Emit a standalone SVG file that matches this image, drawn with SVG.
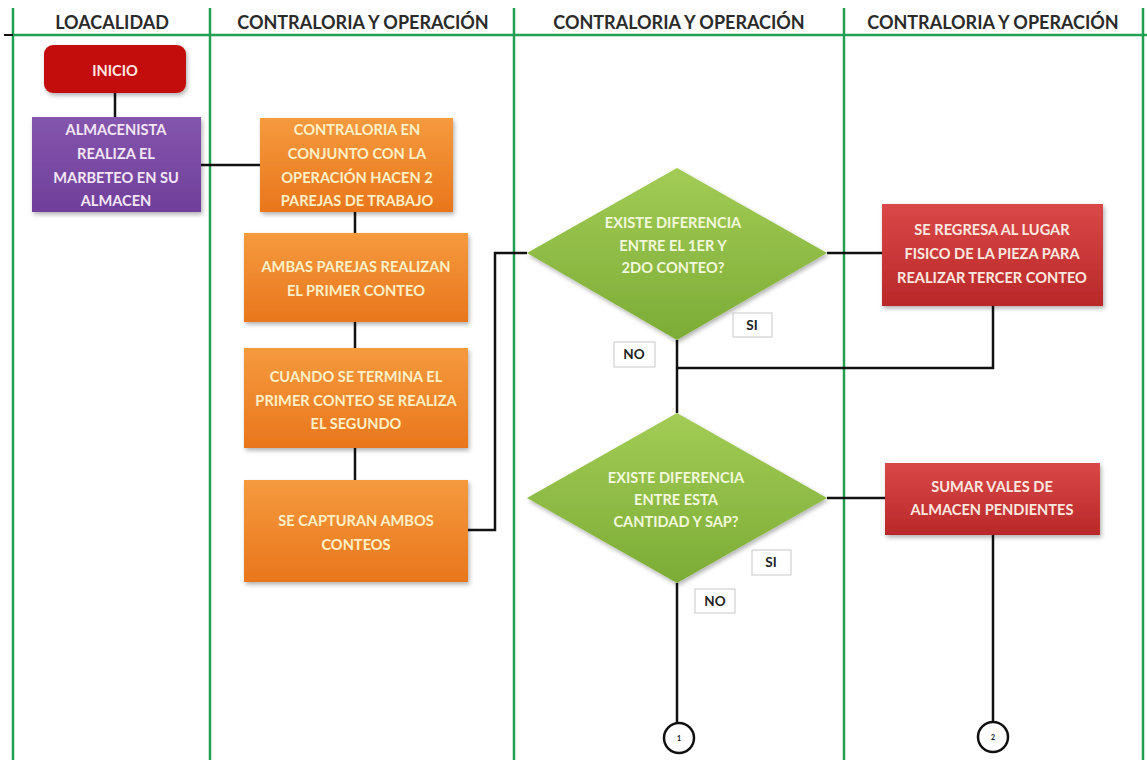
<svg xmlns="http://www.w3.org/2000/svg" width="1147" height="760" viewBox="0 0 1147 760">
  <defs>
    <linearGradient id="gOrange" x1="0" y1="0" x2="0" y2="1">
      <stop offset="0" stop-color="#f59a3e"/>
      <stop offset="1" stop-color="#e9761c"/>
    </linearGradient>
    <linearGradient id="gRed" x1="0" y1="0" x2="0" y2="1">
      <stop offset="0" stop-color="#da4848"/>
      <stop offset="1" stop-color="#b92828"/>
    </linearGradient>
    <linearGradient id="gPurple" x1="0" y1="0" x2="0" y2="1">
      <stop offset="0" stop-color="#8555ad"/>
      <stop offset="1" stop-color="#6f3f9a"/>
    </linearGradient>
    <linearGradient id="gGreen" x1="0" y1="0" x2="0" y2="1">
      <stop offset="0" stop-color="#a2cc55"/>
      <stop offset="1" stop-color="#7cac36"/>
    </linearGradient>
    <filter id="shadow" x="-10%" y="-10%" width="125%" height="130%">
      <feDropShadow dx="1.5" dy="2.5" stdDeviation="2" flood-color="#000" flood-opacity="0.3"/>
    </filter>
  </defs>
  <style>
    .lane { stroke: #22a052; stroke-width: 2.5; fill: none; }
    .head { font-family: Lato, "Open Sans", "Liberation Sans", sans-serif; font-weight: bold; font-size: 18px; fill: #2b2b2b; text-anchor: middle; }
    .txt { font-family: Lato, "Open Sans", "Liberation Sans", sans-serif; font-weight: bold; font-size: 14.6px; text-anchor: middle; }
    .tOrange { fill: #fff0c8; }
    .tRed { fill: #fde8e0; }
    .tPurple { fill: #f3e6f6; }
    .tGreen { fill: #f2f8dc; }
    .conn { stroke: #111; stroke-width: 2.5; fill: none; }
    .lbl { fill: #fff; stroke: #c8c8c8; stroke-width: 1; }
    .lblT { font-family: Lato, "Open Sans", "Liberation Sans", sans-serif; font-weight: bold; font-size: 13.5px; fill: #222; text-anchor: middle; }
    .circ { fill: #fff; stroke: #111; stroke-width: 2.5; }
    .num { font-family: Lato, "Liberation Sans", sans-serif; font-size: 7px; font-weight: bold; fill: #111; text-anchor: middle; }
  </style>

  <rect width="1147" height="760" fill="#ffffff"/>

  <!-- swimlanes -->
  <g id="lanes">
    <line class="lane" x1="13" y1="8" x2="13" y2="760"/>
    <line class="lane" x1="210" y1="8" x2="210" y2="760"/>
    <line class="lane" x1="514" y1="8" x2="514" y2="760"/>
    <line class="lane" x1="844" y1="8" x2="844" y2="760"/>
    <line class="lane" x1="1143" y1="8" x2="1143" y2="760"/>
    <line class="lane" x1="13" y1="35" x2="1147" y2="35"/>
    <line x1="4" y1="35" x2="13" y2="35" stroke="#111" stroke-width="2"/>
    <text class="head" x="112" y="29">LOACALIDAD</text>
    <text class="head" x="363" y="29">CONTRALORIA Y OPERACIÓN</text>
    <text class="head" x="679" y="29">CONTRALORIA Y OPERACIÓN</text>
    <text class="head" x="993" y="29">CONTRALORIA Y OPERACIÓN</text>
  </g>

  <!-- connectors -->
  <g id="connectors">
    <line class="conn" x1="115" y1="93" x2="115" y2="117"/>
    <line class="conn" x1="201" y1="165" x2="260" y2="165"/>
    <line class="conn" x1="355" y1="212" x2="355" y2="233"/>
    <line class="conn" x1="355" y1="322" x2="355" y2="348"/>
    <line class="conn" x1="355" y1="448" x2="355" y2="480"/>
    <polyline class="conn" points="468,530 495,530 495,253 527,253"/>
    <line class="conn" x1="827" y1="253" x2="882" y2="253"/>
    <polyline class="conn" points="993,306 993,368 677,368"/>
    <line class="conn" x1="677" y1="340" x2="677" y2="413"/>
    <line class="conn" x1="827" y1="498" x2="885" y2="498"/>
    <line class="conn" x1="677" y1="583" x2="677" y2="722"/>
    <line class="conn" x1="993" y1="535" x2="993" y2="721"/>
  </g>

  <g id="inicio">
    <rect x="44" y="45" width="142" height="48" rx="9" fill="#c30d0d" filter="url(#shadow)"/>
    <text class="txt tRed" x="115" y="76">INICIO</text>
  </g>

  <g id="almacenista">
    <rect x="32" y="117" width="169" height="95" fill="url(#gPurple)" filter="url(#shadow)"/>
    <text class="txt tPurple" x="116" y="135">ALMACENISTA</text>
    <text class="txt tPurple" x="116" y="159">REALIZA EL</text>
    <text class="txt tPurple" x="116" y="183">MARBETEO EN SU</text>
    <text class="txt tPurple" x="116" y="206">ALMACEN</text>
  </g>

  <g id="contraloria">
    <rect x="260" y="118" width="193" height="94" fill="url(#gOrange)" filter="url(#shadow)"/>
    <text class="txt tOrange" x="357" y="135">CONTRALORIA EN</text>
    <text class="txt tOrange" x="357" y="159">CONJUNTO CON LA</text>
    <text class="txt tOrange" x="357" y="183">OPERACIÓN HACEN 2</text>
    <text class="txt tOrange" x="357" y="206">PAREJAS DE TRABAJO</text>
  </g>

  <g id="primer-conteo">
    <rect x="244" y="233" width="224" height="89" fill="url(#gOrange)" filter="url(#shadow)"/>
    <text class="txt tOrange" x="356" y="272">AMBAS PAREJAS REALIZAN</text>
    <text class="txt tOrange" x="356" y="296">EL PRIMER CONTEO</text>
  </g>

  <g id="segundo-conteo">
    <rect x="244" y="348" width="224" height="100" fill="url(#gOrange)" filter="url(#shadow)"/>
    <text class="txt tOrange" x="356" y="382">CUANDO SE TERMINA EL</text>
    <text class="txt tOrange" x="356" y="406">PRIMER CONTEO SE REALIZA</text>
    <text class="txt tOrange" x="356" y="429">EL SEGUNDO</text>
  </g>

  <g id="captura">
    <rect x="244" y="480" width="224" height="102" fill="url(#gOrange)" filter="url(#shadow)"/>
    <text class="txt tOrange" x="356" y="526">SE CAPTURAN AMBOS</text>
    <text class="txt tOrange" x="356" y="550">CONTEOS</text>
  </g>

  <g id="decision-1">
    <polygon points="677,168 827,253 677,340 527,253" fill="url(#gGreen)" filter="url(#shadow)"/>
    <text class="txt tGreen" x="673" y="228">EXISTE DIFERENCIA</text>
    <text class="txt tGreen" x="673" y="251">ENTRE EL 1ER Y</text>
    <text class="txt tGreen" x="673" y="273">2DO CONTEO?</text>
  </g>

  <g id="tercer-conteo">
    <rect x="882" y="204" width="221" height="102" fill="url(#gRed)" filter="url(#shadow)"/>
    <text class="txt tRed" x="992" y="235">SE REGRESA AL LUGAR</text>
    <text class="txt tRed" x="992" y="259">FISICO DE LA PIEZA PARA</text>
    <text class="txt tRed" x="992" y="283">REALIZAR TERCER CONTEO</text>
  </g>

  <g id="label-si-1">
    <rect class="lbl" x="733" y="313" width="39" height="24"/>
    <text class="lblT" x="752" y="330">SI</text>
  </g>
  <g id="label-no-1">
    <rect class="lbl" x="614" y="342" width="41" height="25"/>
    <text class="lblT" x="634" y="359">NO</text>
  </g>

  <g id="decision-2">
    <polygon points="677,413 827,498 677,583 527,498" fill="url(#gGreen)" filter="url(#shadow)"/>
    <text class="txt tGreen" x="676" y="483">EXISTE DIFERENCIA</text>
    <text class="txt tGreen" x="676" y="505">ENTRE  ESTA</text>
    <text class="txt tGreen" x="676" y="527">CANTIDAD Y SAP?</text>
  </g>

  <g id="vales">
    <rect x="885" y="463" width="215" height="72" fill="url(#gRed)" filter="url(#shadow)"/>
    <text class="txt tRed" x="992" y="492">SUMAR VALES DE</text>
    <text class="txt tRed" x="992" y="515">ALMACEN PENDIENTES</text>
  </g>

  <g id="label-si-2">
    <rect class="lbl" x="752" y="550" width="39" height="25"/>
    <text class="lblT" x="771" y="567">SI</text>
  </g>
  <g id="label-no-2">
    <rect class="lbl" x="695" y="589" width="40" height="24"/>
    <text class="lblT" x="715" y="606">NO</text>
  </g>

  <g id="connector-1">
    <circle class="circ" cx="679" cy="738" r="15"/>
    <text class="num" x="679" y="741">1</text>
  </g>
  <g id="connector-2">
    <circle class="circ" cx="993" cy="737" r="15"/>
    <text class="num" x="993" y="740">2</text>
  </g>
</svg>
